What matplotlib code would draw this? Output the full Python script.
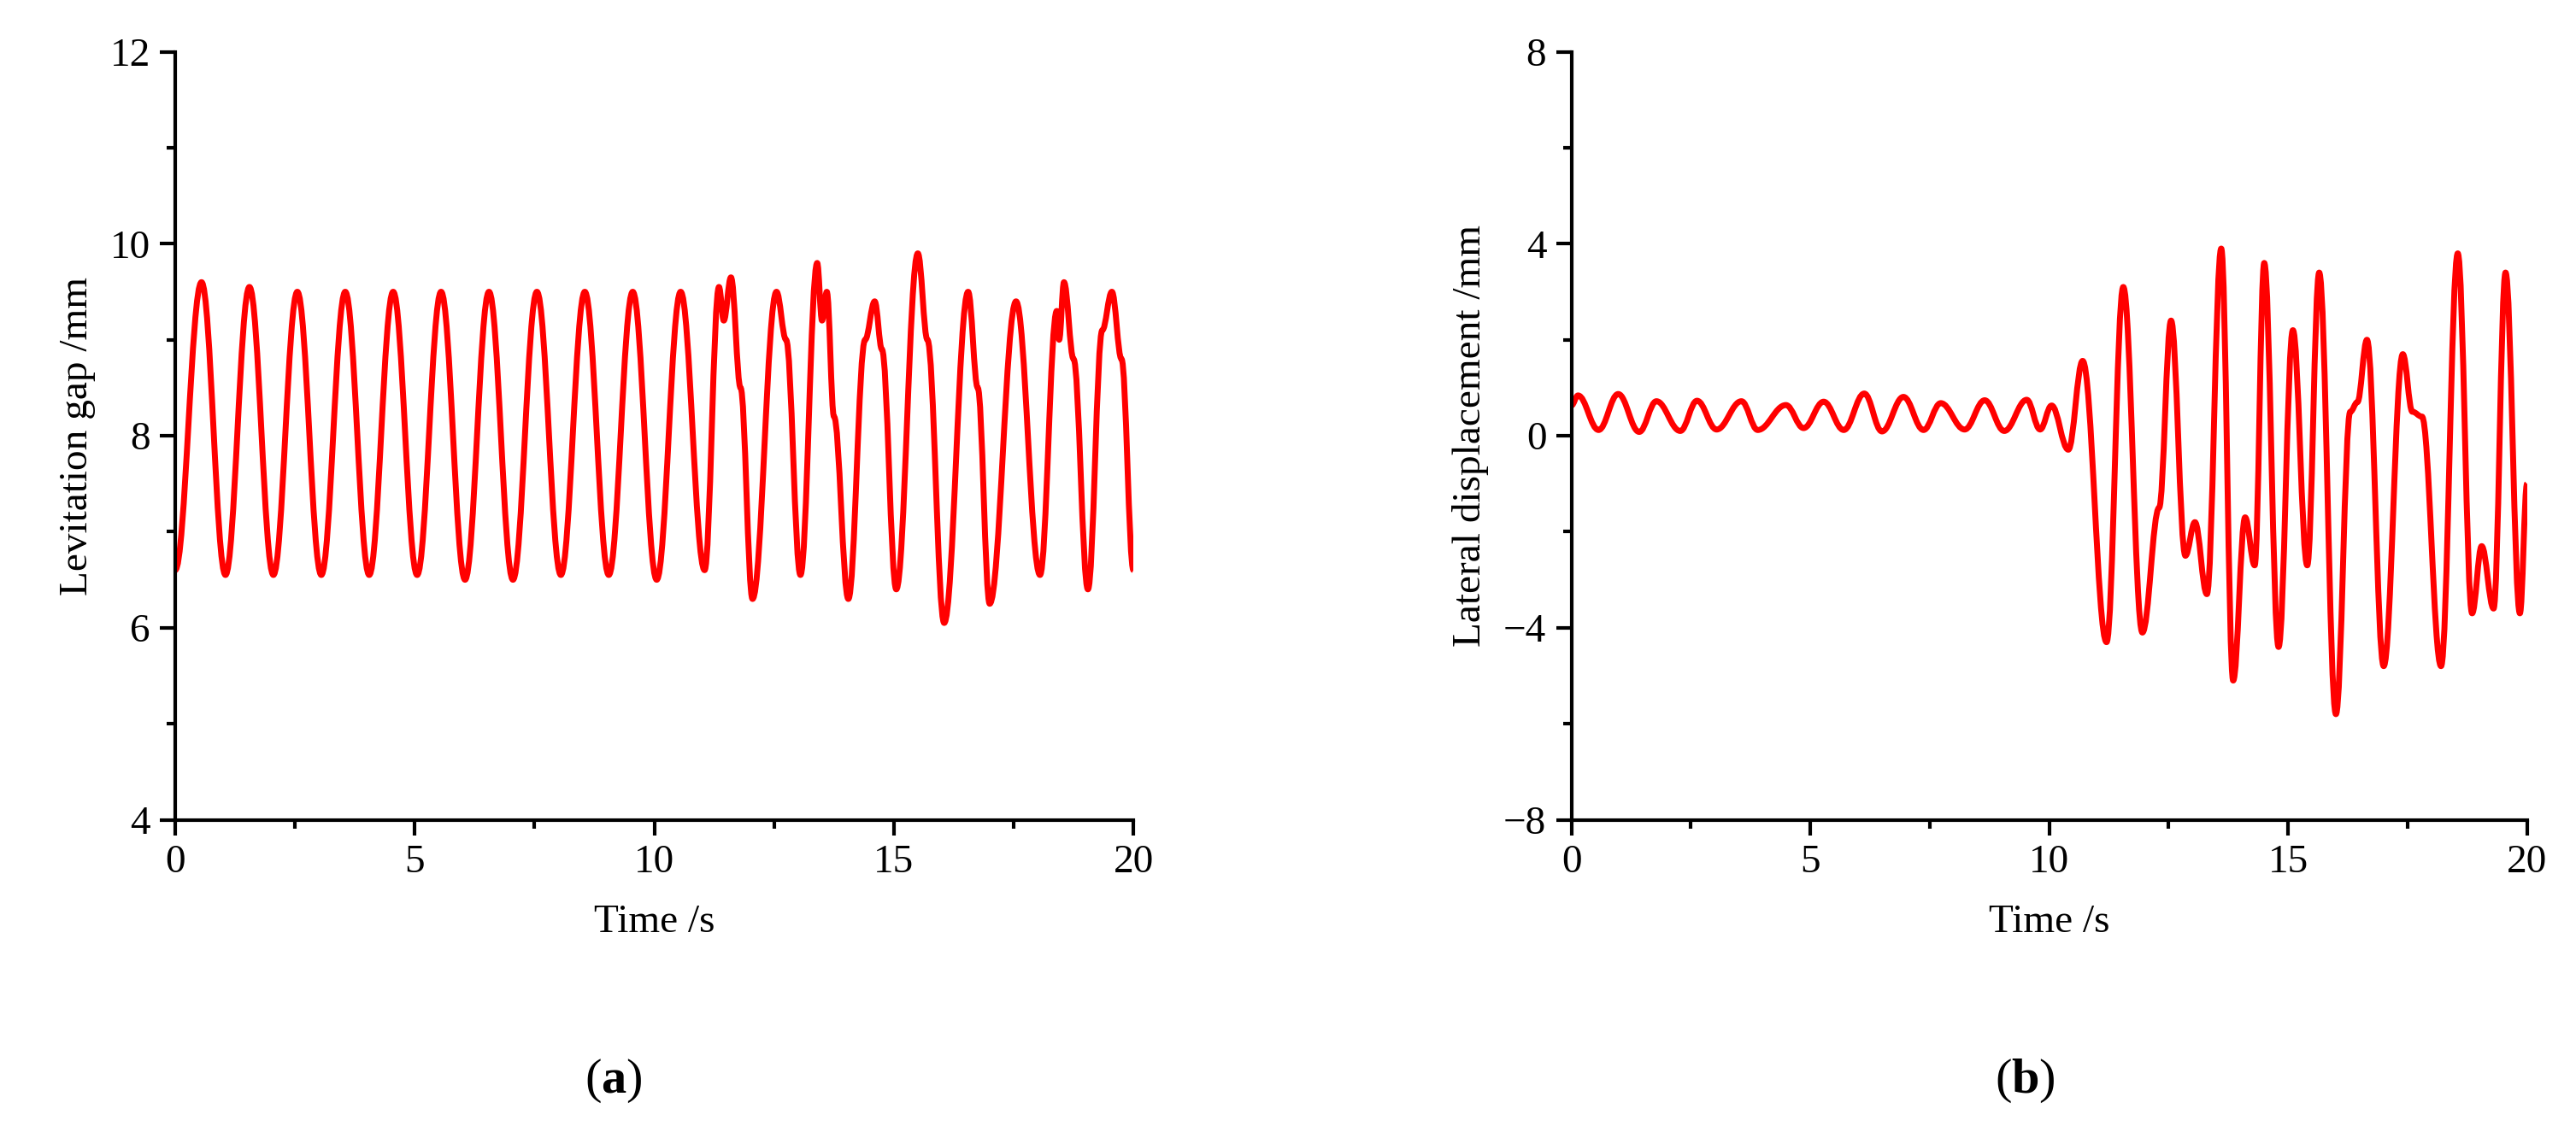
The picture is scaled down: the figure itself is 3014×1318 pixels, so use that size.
import matplotlib
matplotlib.use("Agg")
import matplotlib.pyplot as plt
from matplotlib.path import Path
from matplotlib.patches import PathPatch
from matplotlib.ticker import MultipleLocator

plt.rcParams["font.family"] = ["Liberation Serif", "DejaVu Serif"]
plt.rcParams["mathtext.fontset"] = "custom"
plt.rcParams["mathtext.rm"] = "Liberation Serif"
plt.rcParams["mathtext.bf"] = "Liberation Serif:bold"

# ==========================================================
# DATA (extrema)
# ==========================================================

gap_t = [0.0, 0.55, 1.05, 1.55, 2.05, 2.55, 3.05, 3.55, 4.05, 4.55, 5.05,
         5.55, 6.05, 6.55, 7.05, 7.55, 8.05, 8.55, 9.05, 9.55, 10.05, 10.55,
         11.05, 11.35, 11.45, 11.6, 11.8, 12.05, 12.55, 12.75, 13.05, 13.4,
         13.5, 13.6, 13.75, 14.05, 14.4, 14.6, 14.75, 15.05, 15.5, 15.7,
         16.05, 16.55, 16.75, 17.0, 17.55, 18.05, 18.4, 18.45, 18.55, 18.75,
         19.05, 19.35, 19.55, 19.75, 20.0]
gap_v = [6.6, 9.6, 6.55, 9.55, 6.55, 9.5, 6.55, 9.5, 6.55, 9.5, 6.55,
         9.5, 6.5, 9.5, 6.5, 9.5, 6.55, 9.5, 6.55, 9.5, 6.5, 9.5,
         6.6, 9.55, 9.2, 9.65, 8.5, 6.3, 9.5, 9.0, 6.55, 9.8,
         9.2, 9.5, 8.2, 6.3, 9.0, 9.4, 8.9, 6.4, 9.9, 9.0,
         6.05, 9.5, 8.5, 6.25, 9.4, 6.55, 9.3, 9.0, 9.6, 8.8,
         6.4, 9.1, 9.5, 8.8, 6.6]

lat_t = [0.0, 0.14, 0.57, 0.98, 1.42, 1.78, 2.28, 2.63, 3.04, 3.56, 3.9,
         4.49, 4.86, 5.28, 5.7, 6.13, 6.5, 6.95, 7.37, 7.73, 8.23, 8.65,
         9.06, 9.53, 9.81, 10.05, 10.4, 10.7, 11.2, 11.55, 11.95, 12.3,
         12.55, 12.85, 13.05, 13.3, 13.6, 13.85, 14.1, 14.3, 14.5, 14.8,
         15.1, 15.4, 15.65, 16.0, 16.3, 16.45, 16.65, 17.0, 17.4, 17.6,
         17.8, 18.2, 18.55, 18.85, 19.05, 19.3, 19.55, 19.85, 20.0]
lat_v = [0.63, 0.84, 0.12, 0.87, 0.08, 0.72, 0.1, 0.73, 0.13, 0.72, 0.12,
         0.64, 0.16, 0.71, 0.12, 0.88, 0.09, 0.81, 0.12, 0.68, 0.13, 0.74,
         0.1, 0.75, 0.13, 0.63, -0.29, 1.56, -4.3, 3.1, -4.1, -1.5,
         2.4, -2.5, -1.8, -3.3, 3.9, -5.1, -1.7, -2.7, 3.6, -4.4,
         2.2, -2.7, 3.4, -5.8, 0.5, 0.7, 2.0, -4.8, 1.7, 0.5,
         0.4, -4.8, 3.8, -3.7, -2.3, -3.6, 3.4, -3.7, -1.0]

RED = "#ff0000"
FS = 34


def smooth_curve(ax, t, v):
    # cubic Bezier segments with flat tangents at each extremum
    verts = [(t[0], v[0])]
    codes = [Path.MOVETO]
    for i in range(1, len(t)):
        dt = (t[i] - t[i - 1]) * 0.38
        verts += [(t[i - 1] + dt, v[i - 1]), (t[i] - dt, v[i]), (t[i], v[i])]
        codes += [Path.CURVE4] * 3
    ax.add_patch(PathPatch(Path(verts, codes), fill=False,
                           edgecolor=RED, lw=5, joinstyle="round"))


def style(ax):
    for s in ["top", "right"]:
        ax.spines[s].set_visible(False)
    for s in ["left", "bottom"]:
        ax.spines[s].set_linewidth(3)
    ax.tick_params(which="major", length=13, width=3, labelsize=FS, pad=8)
    ax.tick_params(which="minor", length=7, width=3)
    ax.set_xlim(0, 20)
    ax.xaxis.set_major_locator(MultipleLocator(5))
    ax.xaxis.set_minor_locator(MultipleLocator(2.5))
    ax.set_xlabel("Time /s", fontsize=FS, labelpad=20)


fig = plt.figure(figsize=(30.14, 13.18), dpi=100)

ax1 = fig.add_axes([0.068, 0.272, 0.372, 0.682])
smooth_curve(ax1, gap_t, gap_v)
style(ax1)
ax1.set_ylim(4, 12)
ax1.yaxis.set_major_locator(MultipleLocator(2))
ax1.yaxis.set_minor_locator(MultipleLocator(1))
ax1.set_ylabel("Levitation gap /mm", fontsize=FS, labelpad=12)

ax2 = fig.add_axes([0.61, 0.272, 0.371, 0.682])
smooth_curve(ax2, lat_t, lat_v)
style(ax2)
ax2.set_ylim(-8, 8)
ax2.yaxis.set_major_locator(MultipleLocator(4))
ax2.yaxis.set_minor_locator(MultipleLocator(2))
ax2.set_ylabel("Lateral displacement /mm", fontsize=FS, labelpad=12)

fig.text(0.238, 0.03, r"($\mathbf{a}$)", fontsize=42, ha="center")
fig.text(0.786, 0.03, r"($\mathbf{b}$)", fontsize=42, ha="center")

fig.savefig("out.png", dpi=100)
